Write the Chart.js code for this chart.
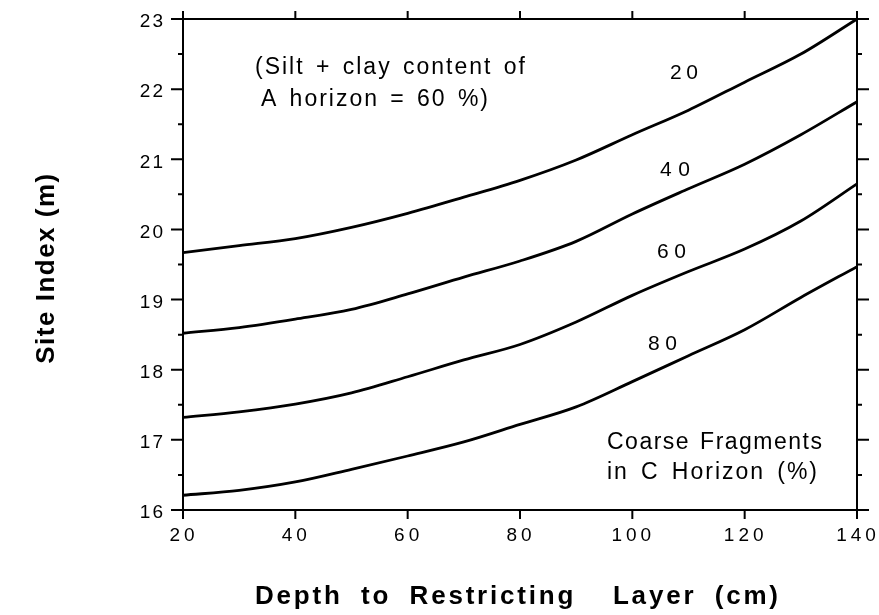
<!DOCTYPE html>
<html>
<head>
<meta charset="utf-8">
<script src="https://cdn.jsdelivr.net/npm/chart.js@4.4.1/dist/chart.umd.min.js"></script>
<style>
  html, body { margin: 0; padding: 0; background: #fff; }
  #wrap { width: 879px; height: 615px; }
</style>
</head>
<body>
<div id="wrap"><canvas id="chart" width="879" height="615"></canvas></div>
<script>
// depth to restricting layer (cm)
const depths = [20, 30, 40, 50, 60, 70, 80, 90, 100, 110, 120, 130, 140];

// site index (m) for each coarse fragment % in C horizon
const cf20 = [19.67, 19.77, 19.87, 20.03, 20.23, 20.46, 20.70, 20.99, 21.35, 21.70, 22.10, 22.50, 23.00];
const cf40 = [18.52, 18.60, 18.72, 18.86, 19.08, 19.32, 19.55, 19.83, 20.22, 20.58, 20.93, 21.35, 21.82];
const cf60 = [17.32, 17.40, 17.51, 17.67, 17.90, 18.14, 18.36, 18.68, 19.06, 19.40, 19.72, 20.12, 20.65];
const cf80 = [16.21, 16.28, 16.40, 16.58, 16.77, 16.97, 17.22, 17.47, 17.83, 18.20, 18.57, 19.03, 19.47];

const xTicks = [20, 40, 60, 80, 100, 120, 140];
const yTicks = [16, 17, 18, 19, 20, 21, 22, 23];

const toPoints = (vals) => vals.map((v, i) => ({ x: depths[i], y: v }));

const font = "'Liberation Sans', Arial, sans-serif";

// write text so it spans a given width: some tracking, the rest in the word gaps
function spread(ctx, text, x, y, width, ls = 1) {
  ctx.letterSpacing = ls + "px";
  ctx.wordSpacing = "0px";
  const w = ctx.measureText(text).width - ls;
  const gaps = (text.match(/ /g) || []).length;
  if (gaps) {
    ctx.wordSpacing = Math.max(0, (width - w) / gaps) + "px";
  } else {
    ctx.letterSpacing = ls + (width - w) / (text.length - 1) + "px";
  }
  ctx.fillText(text, x, y);
  ctx.wordSpacing = "0px";
}

// frame, outward ticks on all 4 sides, tick labels, titles and in-plot labels
const decorPlugin = {
  id: "decor",
  afterDraw(chart) {
    const { ctx, chartArea: a, scales } = chart;
    const xs = scales.x, ys = scales.y;
    ctx.save();
    ctx.strokeStyle = "#000";
    ctx.fillStyle = "#000";
    ctx.lineWidth = 2;
    ctx.strokeRect(a.left, a.top, a.right - a.left, a.bottom - a.top);

    ctx.beginPath();
    for (let v = 16; v <= 23.001; v += 0.5) {
      const y = ys.getPixelForValue(v);
      const len = Number.isInteger(v) ? 12 : 5;
      ctx.moveTo(a.left - len, y); ctx.lineTo(a.left, y);
      ctx.moveTo(a.right, y); ctx.lineTo(a.right + len, y);
    }
    xTicks.forEach((v) => {
      const x = xs.getPixelForValue(v);
      ctx.moveTo(x, a.bottom); ctx.lineTo(x, a.bottom + 9);
      ctx.moveTo(x, a.top); ctx.lineTo(x, a.top - 8);
    });
    ctx.stroke();

    // tick labels
    ctx.font = "19px " + font;
    ctx.textBaseline = "middle";
    ctx.textAlign = "right";
    ctx.letterSpacing = "2px";
    yTicks.forEach((v) => {
      ctx.fillText(String(v), a.left - 18, ys.getPixelForValue(v) + 3);
    });
    ctx.textAlign = "center";
    ctx.letterSpacing = "4px";
    xTicks.forEach((v) => {
      ctx.fillText(String(v), xs.getPixelForValue(v) + 1, 536);
    });

    // axis titles
    ctx.font = "bold 26px " + font;
    ctx.textAlign = "left";
    spread(ctx, "Depth to Restricting  Layer (cm)", 255, 597, 523, 2.8);
    ctx.save();
    ctx.translate(47, 268);
    ctx.rotate(-Math.PI / 2);
    ctx.textAlign = "center";
    ctx.letterSpacing = "1.5px";
    ctx.fillText("Site Index (m)", 0, 0);
    ctx.restore();

    // notes inside the plot
    ctx.font = "23px " + font;
    ctx.textAlign = "left";
    spread(ctx, "(Silt + clay content of", 255, 68, 270, 2);
    spread(ctx, "A horizon = 60 %)", 261, 100, 227, 2);
    spread(ctx, "Coarse Fragments", 607, 443, 215, 1.5);
    spread(ctx, "in C Horizon (%)", 607, 473, 210, 2);

    ctx.font = "21px " + font;
    spread(ctx, "20", 670, 73, 28);
    spread(ctx, "40", 660, 170, 30);
    spread(ctx, "60", 657, 252, 29);
    spread(ctx, "80", 648, 344, 29);
    ctx.restore();
  },
};

const lineStyle = {
  borderColor: "#000",
  borderWidth: 2.8,
  pointRadius: 0,
  cubicInterpolationMode: "monotone",
  fill: false,
};

new Chart(document.getElementById("chart"), {
  type: "line",
  data: {
    datasets: [
      { label: "20", data: toPoints(cf20), ...lineStyle },
      { label: "40", data: toPoints(cf40), ...lineStyle },
      { label: "60", data: toPoints(cf60), ...lineStyle },
      { label: "80", data: toPoints(cf80), ...lineStyle },
    ],
  },
  options: {
    responsive: false,
    devicePixelRatio: 1,
    animation: false,
    layout: { padding: { top: 19, right: 22, left: 0, bottom: 0 } },
    plugins: { legend: { display: false }, tooltip: { enabled: false } },
    scales: {
      x: {
        type: "linear",
        min: 20,
        max: 140,
        afterFit: (s) => { s.height = 105; },
        ticks: { display: false },
        grid: { display: false },
        border: { display: false },
      },
      y: {
        min: 16,
        max: 23,
        afterFit: (s) => { s.width = 183; },
        ticks: { display: false },
        grid: { display: false },
        border: { display: false },
      },
    },
  },
  plugins: [decorPlugin],
});
</script>
</body>
</html>
